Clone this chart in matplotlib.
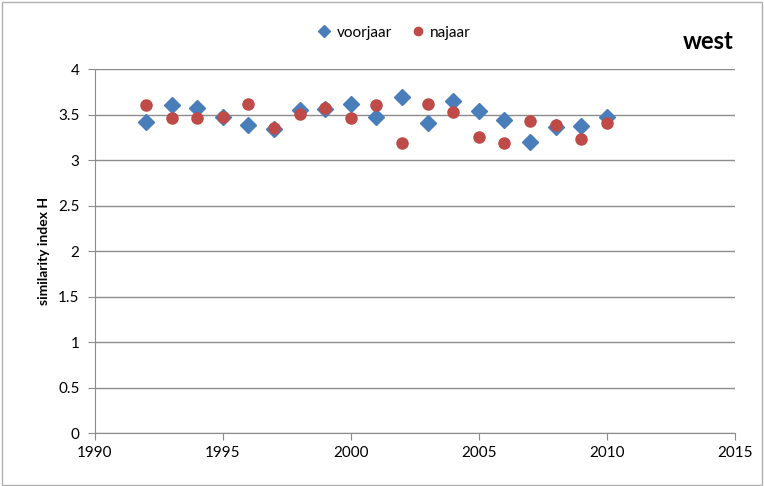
import numpy as np
import matplotlib
matplotlib.use('Agg')
import matplotlib.pyplot as plt
from matplotlib.patches import Rectangle

plt.rcParams['font.family'] = ['Lato', 'DejaVu Sans']

years = list(range(1992, 2011))
voorjaar = [3.42, 3.60, 3.57, 3.47, 3.38, 3.34, 3.55, 3.56, 3.62, 3.47,
            3.69, 3.41, 3.65, 3.54, 3.44, 3.20, 3.36, 3.37, 3.47]
najaar = [3.60, 3.46, 3.46, 3.47, 3.62, 3.35, 3.51, 3.57, 3.46, 3.60,
          3.19, 3.62, 3.53, 3.25, 3.19, 3.43, 3.39, 3.23, 3.41]

blue = '#4a7ebb'
red = '#be4b48'
grey = '#8c8c8c'

fig = plt.figure(figsize=(7.64, 4.86), dpi=100)
ax = fig.add_axes([0.124, 0.109, 0.838, 0.749])

ax.plot(years, voorjaar, 'D', color=blue, markersize=8.5, label='voorjaar', zorder=3)
ax.plot(years, najaar, 'o', color=red, markersize=8, label='najaar', zorder=4)

ax.set_xlim(1990, 2015)
ax.set_ylim(0, 4)
ax.set_xticks(np.arange(1990, 2016, 5))
ax.set_yticks(np.arange(0, 4.01, 0.5))
ax.set_yticklabels(['0', '0.5', '1', '1.5', '2', '2.5', '3', '3.5', '4'])
ax.grid(axis='y', color=grey, lw=1)
ax.set_axisbelow(True)
for s in ['top', 'right']:
    ax.spines[s].set_visible(False)
for s in ['left', 'bottom']:
    ax.spines[s].set_color(grey)
ax.tick_params(axis='x', direction='out', length=5, color=grey, labelsize=11, pad=4)
ax.tick_params(axis='y', direction='out', length=5, color=grey, labelsize=11, pad=6)
ax.set_ylabel('similarity index H', fontsize=10, fontweight='bold', labelpad=6)

ax.legend(loc='center', bbox_to_anchor=(0.467, 1.10), ncol=2, frameon=False,
          fontsize=11, handletextpad=0.3, columnspacing=1.2, markerscale=0.75,
          handlelength=1.0)

fig.text(0.96, 0.915, 'west', ha='right', va='center', fontsize=17, fontweight='bold')

fig.patches.append(Rectangle((0.002, 0.002), 0.996, 0.994, transform=fig.transFigure,
                             fill=False, edgecolor='#b0b0b0', lw=1))

fig.savefig('out.png', dpi=100)
